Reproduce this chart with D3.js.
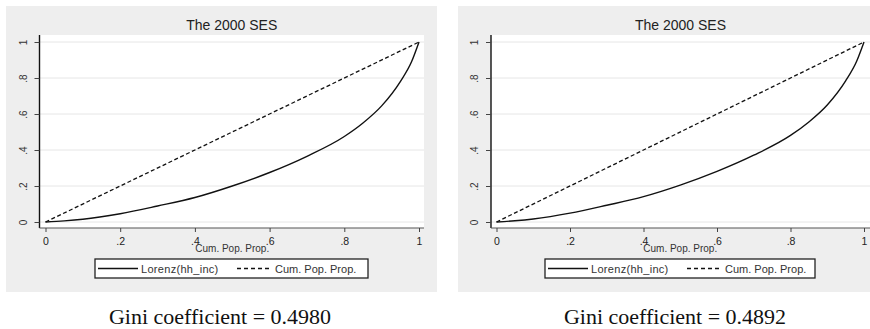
<!DOCTYPE html>
<html>
<head>
<meta charset="utf-8">
<script src="https://cdn.jsdelivr.net/npm/d3@7"></script>
<style>
  body { margin: 0; background: #fff; }
  svg { display: block; }
</style>
</head>
<body>
<svg id="chart" width="870" height="329"></svg>
<script>
/* two Stata-style Lorenz curve panels, side by side */

const popShare = [0, 0.05, 0.1, 0.2, 0.3, 0.4, 0.5, 0.6, 0.7, 0.8, 0.85, 0.9, 0.95, 0.98, 1]
const lorenzLeft = [0, 0.006, 0.015, 0.046, 0.089, 0.136, 0.2, 0.275, 0.365, 0.475, 0.55, 0.645, 0.78, 0.89, 1]
const lorenzRight = [0, 0.007, 0.017, 0.049, 0.093, 0.141, 0.205, 0.281, 0.371, 0.481, 0.556, 0.65, 0.784, 0.893, 1]
const equalityLine = [0, 1]
const tickValues = [0, 0.2, 0.4, 0.6, 0.8, 1]
const tickLabels = ['0', '.2', '.4', '.6', '.8', '1']
const giniLabels = ['Gini coefficient = 0.4980', 'Gini coefficient = 0.4892']
const panelTitle = 'The 2000 SES'
const xTitle = 'Cum. Pop. Prop.'
const legendNames = ['Lorenz(hh_inc)', 'Cum. Pop. Prop.']

const svg = d3.select('#chart')
const sans = "'Liberation Sans', Arial, sans-serif"

// panel geometry (left, right)
const panels = [
  { bg: [6, 437], axisX: 39.5, plotR: 424, x0: 45.5, x1: 419, legend: [95, 368], lorenz: lorenzLeft, gini: giniLabels[0], giniX: 220 },
  { bg: [458, 872], axisX: 491, plotR: 872, x0: 496.5, x1: 864, legend: [545, 815], lorenz: lorenzRight, gini: giniLabels[1], giniX: 675 }
]

const y = d3.scaleLinear().domain([0, 1]).range([222, 42])

panels.forEach(function (p) {
  const g = svg.append('g')
  const x = d3.scaleLinear().domain([0, 1]).range([p.x0, p.x1])
  const mid = (p.axisX + Math.min(p.plotR, 870)) / 2

  g.append('rect')
    .attr('x', p.bg[0]).attr('y', 6)
    .attr('width', p.bg[1] - p.bg[0]).attr('height', 286)
    .style('fill', '#eeeeee')

  g.append('rect')
    .attr('x', p.axisX).attr('y', 35)
    .attr('width', p.plotR - p.axisX).attr('height', 193)
    .style('fill', '#fff')

  // gridlines
  g.selectAll('.grid')
    .data(tickValues)
    .enter().append('line')
    .attr('x1', p.axisX).attr('x2', p.plotR)
    .attr('y1', d => y(d)).attr('y2', d => y(d))
    .style('stroke', '#e6e6e6')
    .style('stroke-width', 1)

  g.append('text')
    .text(panelTitle)
    .attr('x', mid).attr('y', 30)
    .attr('text-anchor', 'middle')
    .style('font-family', sans)
    .style('font-size', '14px')
    .style('fill', '#222')

  // y axis, labels turned on their side like Stata does
  const yAxis = d3.axisLeft(y).tickValues(tickValues).tickFormat((d, i) => tickLabels[i]).tickSize(5)
  const ya = g.append('g')
    .attr('transform', 'translate(' + p.axisX + ',0)')
    .call(yAxis)
  ya.select('.domain').attr('d', 'M0,35V228').style('stroke', '#111').style('stroke-width', 1.4)
  ya.selectAll('.tick line').style('stroke', '#444')
  ya.selectAll('.tick text')
    .attr('x', 0).attr('y', -13).attr('dy', null)
    .attr('transform', 'rotate(-90)')
    .attr('text-anchor', 'middle')
    .style('font-family', sans)
    .style('font-size', '10px')
    .style('fill', '#333')

  // x axis
  const xAxis = d3.axisBottom(x).tickValues(tickValues).tickFormat((d, i) => tickLabels[i]).tickSize(4).tickPadding(6)
  const xa = g.append('g')
    .attr('transform', 'translate(0,228)')
    .call(xAxis)
  xa.select('.domain').attr('d', 'M' + p.axisX + ',0H' + p.plotR).style('stroke', '#555').style('stroke-width', 1.2)
  xa.selectAll('.tick line').style('stroke', '#444')
  xa.selectAll('.tick text')
    .style('font-family', sans)
    .style('font-size', '10.5px')
    .style('fill', '#222')

  g.append('text')
    .text(xTitle)
    .attr('x', (p.x0 + p.x1) / 2).attr('y', 252)
    .attr('text-anchor', 'middle')
    .style('font-family', sans)
    .style('font-size', '10px')
    .style('fill', '#333')

  // lines
  const line = d3.line()
    .x(d => x(d[0]))
    .y(d => y(d[1]))
    .curve(d3.curveMonotoneX)

  g.append('path')
    .datum(equalityLine.map(v => [v, v]))
    .attr('d', line)
    .style('fill', 'none')
    .style('stroke', '#111')
    .style('stroke-width', 1.3)
    .style('stroke-dasharray', '4,2.5')

  g.append('path')
    .datum(popShare.map((v, i) => [v, p.lorenz[i]]))
    .attr('d', line)
    .style('fill', 'none')
    .style('stroke', '#111')
    .style('stroke-width', 1.4)

  // legend
  const lg = g.append('g')
  lg.append('rect')
    .attr('x', p.legend[0]).attr('y', 259)
    .attr('width', p.legend[1] - p.legend[0]).attr('height', 19)
    .style('fill', '#fff')
    .style('stroke', '#222')
    .style('stroke-width', 1.3)
  const lx = p.legend[0]
  lg.append('line')
    .attr('x1', lx + 3).attr('x2', lx + 43).attr('y1', 268.5).attr('y2', 268.5)
    .style('stroke', '#111').style('stroke-width', 1.3)
  lg.append('text').text(legendNames[0])
    .attr('x', lx + 46).attr('y', 272.5)
    .style('font-family', sans).style('font-size', '11px').style('letter-spacing', '0.3px').style('fill', '#333')
  lg.append('line')
    .attr('x1', lx + 142).attr('x2', lx + 177).attr('y1', 268.5).attr('y2', 268.5)
    .style('stroke', '#111').style('stroke-width', 1.3)
    .style('stroke-dasharray', '4,3')
  lg.append('text').text(legendNames[1])
    .attr('x', lx + 180).attr('y', 272.5)
    .style('font-family', sans).style('font-size', '11px').style('fill', '#333')

  svg.append('text')
    .text(p.gini)
    .attr('x', p.giniX).attr('y', 324)
    .attr('text-anchor', 'middle')
    .style('font-family', "'Liberation Serif', 'Times New Roman', serif")
    .style('font-size', '22px')
    .style('fill', '#111')
})
</script>
</body>
</html>
